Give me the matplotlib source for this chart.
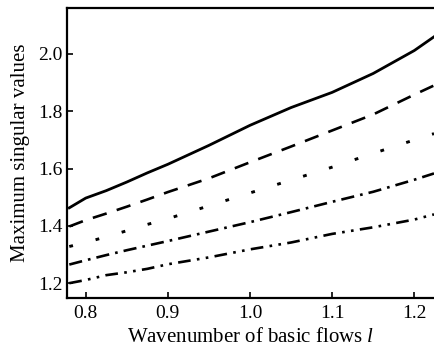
import numpy as np
import matplotlib
matplotlib.use("Agg")
import matplotlib.pyplot as plt

plt.rcParams['font.family'] = ['Liberation Serif', 'DejaVu Serif']
plt.rcParams['mathtext.fontset'] = 'custom'
plt.rcParams['mathtext.it'] = 'Liberation Serif:italic'

# wavenumber of basic flows
l = [0.78, 0.80, 0.825, 0.85, 0.875, 0.90, 0.95, 1.00, 1.05, 1.10, 1.15, 1.20, 1.224]

# maximum singular values, one list per curve
solid = [1.463, 1.497, 1.523, 1.553, 1.585, 1.615, 1.681, 1.751, 1.813, 1.866, 1.932, 2.012, 2.06]
dashed = [1.398, 1.42, 1.443, 1.467, 1.492, 1.518, 1.566, 1.622, 1.677, 1.733, 1.789, 1.858, 1.89]
dotted = [1.328, 1.342, 1.362, 1.383, 1.405, 1.425, 1.47, 1.515, 1.56, 1.605, 1.653, 1.70, 1.722]
dashdot = [1.265, 1.28, 1.298, 1.315, 1.331, 1.347, 1.38, 1.413, 1.448, 1.484, 1.519, 1.561, 1.583]
dashdotdot = [1.20, 1.211, 1.228, 1.238, 1.25, 1.266, 1.29, 1.318, 1.342, 1.372, 1.395, 1.422, 1.44]

xticks = [0.8, 0.9, 1.0, 1.1, 1.2]
yticks = [1.2, 1.4, 1.6, 1.8, 2.0]

fig = plt.figure(figsize=(4.34, 3.54), dpi=100)
ax = fig.add_axes([0.154, 0.158, 0.846, 0.819])

lw = 1.9
ax.plot(l, solid, color='black', lw=2.0, linestyle='-')
ax.plot(l, dashed, color='black', lw=lw, linestyle=(0, (5.5, 4)))
ax.plot(l, dotted, color='black', lw=2.1, linestyle=(0, (1.3, 8)))
ax.plot(l, dashdot, color='black', lw=lw, linestyle=(0, (5, 2.3, 1, 2.3)))
ax.plot(l, dashdotdot, color='black', lw=lw, linestyle=(0, (4.8, 2.4, 1, 2.4, 1, 2.4)))

ax.set_xlim(0.777, 1.224)
ax.set_ylim(1.148, 2.16)
ax.set_xticks(xticks)
ax.set_yticks(yticks)
ax.set_xticklabels(['%.1f' % v for v in xticks])
ax.set_yticklabels(['%.1f' % v for v in yticks])
ax.tick_params(direction='in', length=4, width=1.2, labelsize=14)
ax.tick_params(axis='x', pad=5)
ax.tick_params(axis='y', pad=3)

for s in ['left', 'bottom', 'top']:
    ax.spines[s].set_linewidth(1.6)
ax.spines['right'].set_visible(False)

ax.set_xlabel('Wavenumber of basic flows $\\mathit{l}$', fontsize=15, labelpad=4)
ax.set_ylabel('Maximum singular values', fontsize=15, labelpad=6)

fig.savefig('out.png', dpi=100)
